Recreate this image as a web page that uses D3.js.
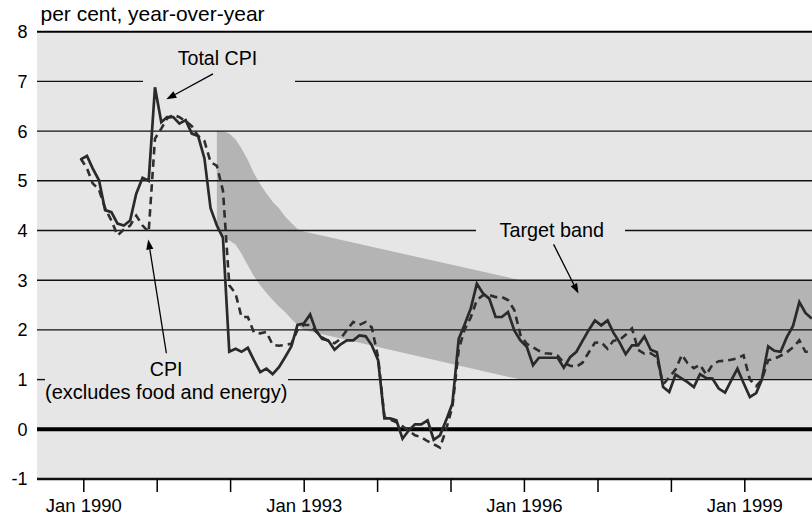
<!DOCTYPE html>
<html><head><meta charset="utf-8">
<script src="https://cdn.jsdelivr.net/npm/d3@7"></script>
<style>
html,body{margin:0;padding:0;background:#fff;}
svg{display:block;font-family:"Liberation Sans",Arial,Helvetica,sans-serif;}
</style></head><body>
<svg id="chart" width="812" height="518"></svg>
<script>
// ---------------- data ----------------
const firstMonth = "1990-01";
// Total CPI, year-over-year % (monthly, Jan 1990 - Nov 1999)
const totalCPI = [
  5.43, 5.50, 5.25, 5.01, 4.41, 4.37, 4.14, 4.10, 4.20, 4.74, 5.06, 5.00,
  6.88, 6.18, 6.28, 6.28, 6.15, 6.22, 5.95, 5.90, 5.45, 4.45, 4.10, 3.85,
  1.56, 1.62, 1.56, 1.64, 1.39, 1.15, 1.22, 1.11, 1.25, 1.45, 1.67, 2.10,
  2.13, 2.31, 1.99, 1.82, 1.79, 1.60, 1.71, 1.79, 1.79, 1.89, 1.87, 1.69,
  1.39, 0.22, 0.22, 0.18, -0.19, -0.02, 0.10, 0.10, 0.18, -0.21, -0.12, 0.18,
  0.52, 1.82, 2.10, 2.43, 2.93, 2.73, 2.63, 2.26, 2.26, 2.36, 1.99, 1.79,
  1.66, 1.29, 1.44, 1.44, 1.44, 1.44, 1.24, 1.45, 1.56, 1.78, 2.00, 2.19,
  2.09, 2.19, 1.95, 1.75, 1.51, 1.69, 1.69, 1.87, 1.60, 1.55, 0.85, 0.75,
  1.10, 1.02, 0.95, 0.85, 1.11, 1.03, 1.02, 0.82, 0.74, 0.98, 1.22, 0.93,
  0.65, 0.73, 1.00, 1.67, 1.58, 1.56, 1.85, 2.08, 2.56, 2.34, 2.23
];
// CPI excluding food and energy, year-over-year %
const coreCPI = [
  5.45, 5.25, 4.95, 4.82, 4.45, 4.20, 3.90, 4.02, 4.10, 4.30, 4.10, 3.97,
  5.85, 6.05, 6.25, 6.33, 6.28, 6.20, 6.10, 5.90, 5.80, 5.38, 5.30, 4.80,
  2.90, 2.73, 2.26, 2.26, 1.95, 1.93, 1.96, 1.70, 1.68, 1.70, 1.72, 2.00,
  2.10, 2.10, 1.97, 1.85, 1.78, 1.73, 1.82, 2.00, 2.16, 2.10, 2.16, 2.05,
  1.45, 0.25, 0.20, 0.14, 0.06, -0.03, -0.12, -0.16, -0.24, -0.30, -0.37, 0.00,
  0.45, 1.60, 2.00, 2.25, 2.60, 2.70, 2.70, 2.66, 2.66, 2.60, 2.40, 1.90,
  1.72, 1.65, 1.58, 1.53, 1.52, 1.48, 1.34, 1.28, 1.26, 1.34, 1.55, 1.74,
  1.75, 1.62, 1.78, 1.80, 1.90, 2.03, 1.60, 1.52, 1.53, 1.45, 0.90, 1.05,
  1.20, 1.50, 1.33, 1.23, 1.30, 1.10, 1.30, 1.37, 1.38, 1.40, 1.43, 1.49,
  1.00, 0.87, 1.00, 1.39, 1.42, 1.48, 1.55, 1.65, 1.79, 1.56, 1.56
];
// Inflation-control target band
const bandMonths = ["1991-11","1991-12","1992-01","1992-02","1992-03","1992-04","1992-05",
  "1992-06","1992-07","1992-08","1992-09","1992-10","1992-11","1992-12","1993-01","1995-12","2000-03"];
const bandUpper = [6.00, 6.00, 5.95, 5.83, 5.65, 5.42, 5.15, 4.93, 4.75, 4.58, 4.45, 4.28, 4.15, 4.03, 3.98, 3.00, 3.00];
const bandLower = [4.00, 3.88, 3.80, 3.72, 3.53, 3.30, 3.08, 2.90, 2.75, 2.60, 2.47, 2.36, 2.22, 2.10, 2.00, 1.00, 1.00];

const yTickValues = [-1, 0, 1, 2, 3, 4, 5, 6, 7, 8];
const xTickYears = [1990, 1991, 1992, 1993, 1994, 1995, 1996, 1997, 1998, 1999];
const xLabelYears = [1990, 1993, 1996, 1999];

// annotations (date, value) in data space
const annotations = [
  {text: "Total CPI", date: "1991-11-04", value: 7.33, size: 19.6},
  {text: "CPI", date: "1991-02-25", value: 1.07, size: 19.6},
  {text: "(excludes food and energy)", date: "1991-02-25", value: 0.61, size: 20},
  {text: "Target band", date: "1996-05-03", value: 3.87, size: 19.8}
];
const arrows = [
  {from: ["1991-10-13", 7.15], to: ["1991-02-26", 6.64]},
  {from: ["1991-02-26", 1.53], to: ["1990-11-29", 3.82]},
  {from: ["1996-05-12", 3.72], to: ["1996-09-11", 2.73]}
];

// ---------------- layout ----------------
const W = 812, H = 518;
const plotLeft = 37, plotRight = 812, plotTop = 31.7, plotBottom = 479;
const parseMonth = d3.timeParse("%Y-%m");
const parseDay = d3.timeParse("%Y-%m-%d");
const start = parseMonth(firstMonth);
const months = totalCPI.map((_, i) => d3.timeMonth.offset(start, i));

const xData = d3.scaleTime()
  .domain([start, d3.timeMonth.offset(start, 119)])
  .range([80.66, 80.66 + 6.195 * 119]);
const xAxisScale = d3.scaleTime()
  .domain([new Date(1990, 0, 1), new Date(1999, 0, 1)])
  .range([83.3, 744.3]);
const y = d3.scaleLinear().domain([-1, 8]).range([plotBottom, plotTop]);

const svg = d3.select("#chart");
svg.append("rect").attr("width", W).attr("height", H).attr("fill", "#fff");

svg.append("defs").append("clipPath").attr("id", "plotclip")
  .append("rect").attr("x", plotLeft).attr("y", plotTop)
  .attr("width", plotRight - plotLeft).attr("height", plotBottom - plotTop);

// plot background
svg.append("rect").attr("x", plotLeft).attr("y", plotTop)
  .attr("width", plotRight - plotLeft).attr("height", plotBottom - plotTop)
  .attr("fill", "#e6e6e6");

const plot = svg.append("g").attr("clip-path", "url(#plotclip)");

// target band
const bandData = bandMonths.map((m, i) => ({d: parseMonth(m), hi: bandUpper[i], lo: bandLower[i]}));
plot.append("path")
  .datum(bandData)
  .attr("fill", "#b4b4b4")
  .attr("d", d3.area().x(d => xData(d.d)).y0(d => y(d.lo)).y1(d => y(d.hi)));

// gridlines with gaps around labels
const gaps = {7: [[143, 295]], 4: [[476, 625]], 1: [[45, 288]]};
yTickValues.filter(v => v > -1 && v < 8 && v !== 0).forEach(v => {
  let segs = [[plotLeft, plotRight]];
  (gaps[v] || []).forEach(([g0, g1]) => {
    segs = segs.flatMap(([a, b]) => {
      const out = [];
      if (g0 > a) out.push([a, Math.min(b, g0)]);
      if (g1 < b) out.push([Math.max(a, g1), b]);
      return out;
    });
  });
  segs.forEach(([a, b]) => {
    svg.append("line").attr("x1", a).attr("x2", b)
      .attr("y1", y(v)).attr("y2", y(v))
      .attr("stroke", "#111").attr("stroke-width", 1.4);
  });
});
// zero line
svg.append("line").attr("x1", plotLeft).attr("x2", plotRight)
  .attr("y1", y(0)).attr("y2", y(0)).attr("stroke", "#000").attr("stroke-width", 4);
// top and bottom border
svg.append("line").attr("x1", plotLeft).attr("x2", plotRight)
  .attr("y1", y(8)).attr("y2", y(8)).attr("stroke", "#000").attr("stroke-width", 2);
svg.append("line").attr("x1", plotLeft).attr("x2", plotRight)
  .attr("y1", y(-1)).attr("y2", y(-1)).attr("stroke", "#111").attr("stroke-width", 2.4);

// series
const line = d3.line().x((d, i) => xData(months[i])).y(d => y(d));
const lineG = svg.append("g").attr("clip-path", "url(#plotclip)");
lineG.append("path").datum(coreCPI)
  .attr("fill", "none").attr("stroke", "#2e2e2e").attr("stroke-width", 2.6)
  .attr("stroke-dasharray", "7.5,5").attr("stroke-linejoin", "miter")
  .attr("d", line);
lineG.append("path").datum(totalCPI)
  .attr("fill", "none").attr("stroke", "#2a2a2a").attr("stroke-width", 2.7)
  .attr("stroke-linejoin", "miter")
  .attr("d", line);

// y axis labels
svg.append("g").selectAll("text").data(yTickValues).join("text")
  .attr("x", 27.5).attr("y", d => y(d)).attr("dy", "0.36em")
  .attr("text-anchor", "end").attr("font-size", 18).attr("fill", "#000")
  .text(d => d);

// x axis
const xAxis = d3.axisBottom(xAxisScale)
  .tickValues(xTickYears.map(yr => new Date(yr, 0, 1)))
  .tickSize(13).tickPadding(7)
  .tickFormat(d => xLabelYears.includes(d.getFullYear()) ? "Jan " + d.getFullYear() : "");
const gx = svg.append("g").attr("transform", `translate(0,${plotBottom})`).call(xAxis);
gx.select(".domain").remove();
gx.selectAll(".tick line").attr("stroke", "#000").attr("stroke-width", 1.5);
gx.selectAll(".tick text").attr("font-size", 18.5).attr("fill", "#000")
  .attr("font-family", "'Liberation Sans', Arial, sans-serif");

// title
svg.append("text").attr("x", 40.5).attr("y", 20.5)
  .attr("font-size", 21).attr("fill", "#000")
  .text("per cent, year-over-year");

// annotations
annotations.forEach(a => {
  svg.append("text").attr("x", xData(parseDay(a.date))).attr("y", y(a.value))
    .attr("text-anchor", "middle").attr("font-size", a.size).attr("fill", "#000")
    .text(a.text);
});
arrows.forEach(a => {
  const x1 = xData(parseDay(a.from[0])), y1 = y(a.from[1]);
  const x2 = xData(parseDay(a.to[0])), y2 = y(a.to[1]);
  const ang = Math.atan2(y2 - y1, x2 - x1);
  const L = 10, Wd = 3.6;
  const bx = x2 - L * Math.cos(ang), by = y2 - L * Math.sin(ang);
  svg.append("line").attr("x1", x1).attr("y1", y1).attr("x2", bx).attr("y2", by)
    .attr("stroke", "#000").attr("stroke-width", 1.3);
  const p = d3.path();
  p.moveTo(x2, y2);
  p.lineTo(bx + Wd * Math.sin(ang), by - Wd * Math.cos(ang));
  p.lineTo(bx - Wd * Math.sin(ang), by + Wd * Math.cos(ang));
  p.closePath();
  svg.append("path").attr("d", p.toString()).attr("fill", "#000");
});
</script>
</body></html>
